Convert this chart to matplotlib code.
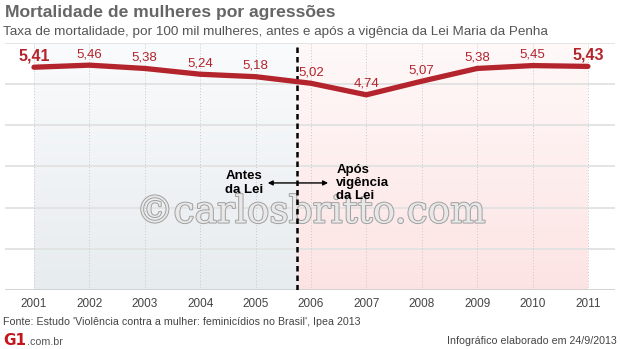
import matplotlib.pyplot as plt
import matplotlib.patheffects as pe
import numpy as np

plt.rcParams['font.family'] = ['Liberation Sans', 'DejaVu Sans']

years = [2001, 2002, 2003, 2004, 2005, 2006, 2007, 2008, 2009, 2010, 2011]
rates = [5.41, 5.46, 5.38, 5.24, 5.18, 5.02, 4.74, 5.07, 5.38, 5.45, 5.43]
rate_labels = ['5,41', '5,46', '5,38', '5,24', '5,18', '5,02', '4,74', '5,07', '5,38', '5,45', '5,43']
law_start = 2005.75

red = '#b3242c'

fig = plt.figure(figsize=(6.2, 3.49), dpi=100)
ax = fig.add_axes([0.008, 0.169, 0.984, 0.708])
ax.set_xlim(2000.476, 2011.49)
ax.set_ylim(0, 6)

# background bands, light at top going darker towards the axis
grad = np.linspace(0, 1, 100).reshape(-1, 1)
blue_top = np.array([0.98, 0.984, 0.988])
blue_bot = np.array([0.905, 0.925, 0.938])
pink_top = np.array([1.0, 0.975, 0.975])
pink_bot = np.array([0.992, 0.893, 0.893])
blue = blue_bot + (blue_top - blue_bot) * grad[..., None]
pink = pink_bot + (pink_top - pink_bot) * grad[..., None]
ax.imshow(blue, extent=[years[0], law_start, 0, 6], origin='lower', aspect='auto', zorder=0)
ax.imshow(pink, extent=[law_start, years[-1], 0, 6], origin='lower', aspect='auto', zorder=0)

for y in range(1, 7):
    ax.axhline(y, color='#e2e2e2', lw=1.3, zorder=1)
for x in years:
    ax.axvline(x, color='#c8c8c8', lw=0.7, ls=(0, (1, 2)), zorder=1)
ax.axhline(0, color='#cfcfcf', lw=2, zorder=2)

ax.axvline(law_start, color='black', lw=1.8, ls=(0, (2.2, 1.6)), zorder=4)

ax.plot(years, rates, color=red, lw=3.8, solid_capstyle='round', solid_joinstyle='round', zorder=5)

for i, (x, v, lab) in enumerate(zip(years, rates, rate_labels)):
    ends = i in (0, len(years) - 1)
    ax.annotate(lab, (x, v), xytext=(0, 11), textcoords='offset pixels',
                ha='center', va='center', color=red,
                fontsize=11.5 if ends else 9.5,
                fontweight='bold' if ends else 'normal', zorder=6)

# watermark
ax.text(2006.0, 1.88, '\u00a9carlosbritto.com', ha='center', va='center',
        fontsize=27, family='DejaVu Serif', color='#e8e8e8', zorder=3,
        path_effects=[pe.withStroke(linewidth=1.4, foreground='#a0a0a0')])

ax.annotate('', xy=(2005.17, 2.6), xytext=(2006.36, 2.6),
            arrowprops=dict(arrowstyle='<|-|>', color='black', lw=1, mutation_scale=7),
            zorder=7)
ax.text(2005.13, 2.6, 'Antes\nda Lei', ha='right', va='center', fontsize=9.5,
        fontweight='bold', linespacing=1.15, zorder=7)
ax.text(2006.46, 2.6, 'Após\nvigência\nda Lei', ha='left', va='center', fontsize=9.5,
        fontweight='bold', linespacing=1.1, zorder=7)

ax.set_xticks(years)
ax.set_xticklabels([str(y) for y in years], fontsize=8.5, color='#444444')
ax.tick_params(axis='x', length=0, pad=6)
ax.set_yticks([])
for s in ax.spines.values():
    s.set_visible(False)

fig.text(0.008, 0.965, 'Mortalidade de mulheres por agressões', fontsize=12.6, fontweight='bold',
         color='#666666', va='center', ha='left')
fig.text(0.005, 0.908, 'Taxa de mortalidade, por 100 mil mulheres, antes e após a vigência da Lei Maria da Penha',
         fontsize=9.7, color='#555555', va='center', ha='left')
fig.text(0.005, 0.077, "Fonte: Estudo 'Violência contra a mulher: feminicídios no Brasil', Ipea 2013",
         fontsize=7.7, color='#444444', va='center', ha='left')
fig.text(0.995, 0.022, 'Infográfico elaborado em 24/9/2013', fontsize=7.7, color='#444444',
         va='center', ha='right')
fig.text(0.005, 0.025, 'G1', fontsize=11, fontweight='heavy', color='#c4161c',
         va='center', ha='left', family='DejaVu Sans')
fig.text(0.043, 0.020, '.com.br', fontsize=7.7, color='#555555', va='center', ha='left')

fig.savefig('out.png', dpi=100)
